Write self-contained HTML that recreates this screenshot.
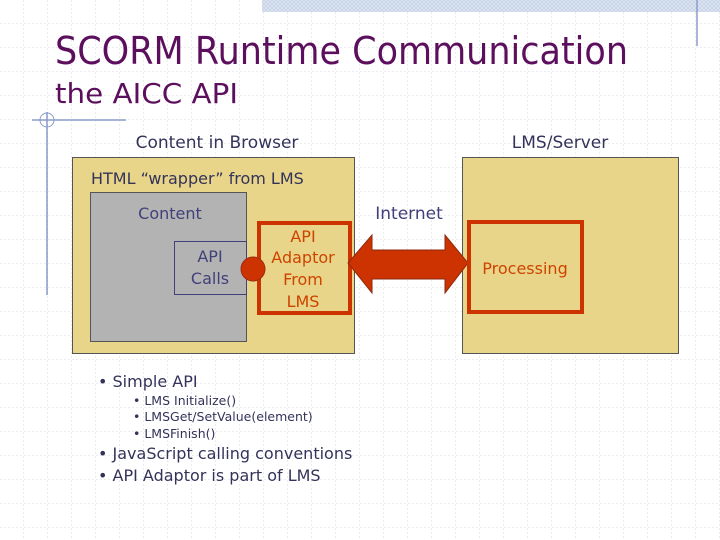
<!DOCTYPE html>
<html><head><meta charset="utf-8"><style>
html,body{margin:0;padding:0;width:720px;height:540px;overflow:hidden;background:#fff}
svg{display:block}
text{font-family:"DejaVu Sans","Liberation Sans",sans-serif}
</style></head><body>
<svg width="720" height="540" viewBox="0 0 720 540" xmlns="http://www.w3.org/2000/svg">
<defs>
<pattern id="grid" width="24" height="24" patternUnits="userSpaceOnUse" x="0" y="0">
<path d="M24 0V24M0 24H24" stroke="#d6d9e0" stroke-width="1" stroke-dasharray="2,2" fill="none"/>
</pattern>
<pattern id="hatch" width="4" height="4" patternUnits="userSpaceOnUse">
<rect width="4" height="4" fill="#e4eaf4"/><path d="M0 0L4 4M4 0L0 4" stroke="#c6d2e6" stroke-width="1"/>
</pattern>
</defs>
<rect width="720" height="540" fill="url(#grid)"/>
<rect x="262" y="0" width="458" height="12" fill="url(#hatch)"/>
<line x1="697" y1="0" x2="697" y2="46" stroke="#8a9ccc" stroke-width="1.5"/>
<line x1="32" y1="120" x2="126" y2="120" stroke="#8a9ccc" stroke-width="1.5"/>
<line x1="47" y1="112" x2="47" y2="295" stroke="#8a9ccc" stroke-width="1.5"/>
<circle cx="47" cy="120" r="7" fill="none" stroke="#8a9ccc" stroke-width="1"/>
<text x="55" y="64" font-size="38" fill="#5c0f5c" textLength="573" lengthAdjust="spacingAndGlyphs">SCORM Runtime Communication</text>
<text x="55" y="103" font-size="28" fill="#5c0f5c" textLength="183" lengthAdjust="spacingAndGlyphs">the AICC API</text>
<text x="217" y="148" font-size="17" fill="#33335a" text-anchor="middle">Content in Browser</text>
<text x="560" y="148" font-size="17" fill="#33335a" text-anchor="middle">LMS/Server</text>
<rect x="72.5" y="157.5" width="282" height="196" fill="#e9d589" stroke="#555" stroke-width="1"/>
<rect x="462.5" y="157.5" width="216" height="196" fill="#e9d589" stroke="#555" stroke-width="1"/>
<text x="91" y="184" font-size="16" fill="#33335a">HTML “wrapper” from LMS</text>
<rect x="90.5" y="192.5" width="156" height="149" fill="#b3b3b3" stroke="#555" stroke-width="1"/>
<text x="170" y="219" font-size="16" fill="#40407a" text-anchor="middle">Content</text>
<rect x="174.5" y="241.5" width="72" height="53" fill="#b3b3b3" stroke="#40407a" stroke-width="1"/>
<text x="210" y="262" font-size="16" fill="#40407a" text-anchor="middle">API</text>
<text x="210" y="284" font-size="16" fill="#40407a" text-anchor="middle">Calls</text>
<rect x="259" y="223" width="91" height="90" fill="#e9d589" stroke="#cc3300" stroke-width="4"/>
<text x="303" y="242" font-size="16" fill="#cc4400" text-anchor="middle">API</text>
<text x="303" y="263" font-size="16" fill="#cc4400" text-anchor="middle">Adaptor</text>
<text x="303" y="285" font-size="16" fill="#cc4400" text-anchor="middle">From</text>
<text x="303" y="307" font-size="16" fill="#cc4400" text-anchor="middle">LMS</text>
<circle cx="253" cy="269" r="12" fill="#cc3300" stroke="#a02a10" stroke-width="1"/>
<text x="409" y="219" font-size="17" fill="#40407a" text-anchor="middle">Internet</text>
<polygon points="348,263 372,235 372,250 445,250 445,235 468,263 445,293 445,279 372,279 372,293" fill="#cc3300" stroke="#8b2a10" stroke-width="1"/>
<rect x="469" y="222" width="113" height="90" fill="#e9d589" stroke="#cc3300" stroke-width="4"/>
<text x="525" y="274" font-size="16" fill="#cc4400" text-anchor="middle">Processing</text>
<g fill="#33335a">
<text x="98" y="387" font-size="16">• Simple API</text>
<text x="133" y="405" font-size="12.5">• LMS Initialize()</text>
<text x="133" y="421" font-size="12.5">• LMSGet/SetValue(element)</text>
<text x="133" y="438" font-size="12.5">• LMSFinish()</text>
<text x="98" y="459" font-size="16">• JavaScript calling conventions</text>
<text x="98" y="481" font-size="16">• API Adaptor is part of LMS</text>
</g>
</svg>
</body></html>
